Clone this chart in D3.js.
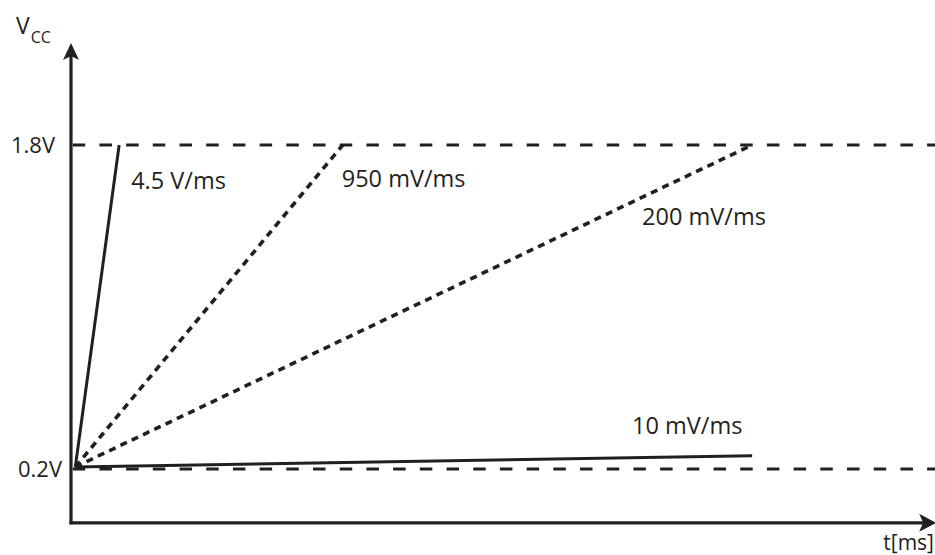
<!DOCTYPE html>
<html>
<head>
<meta charset="utf-8">
<script src="https://cdn.jsdelivr.net/npm/d3@7"></script>
<style>
  html, body { margin: 0; padding: 0; background: #fff; }
  svg { display: block; }
  text { font-family: "Open Sans", "Noto Sans", sans-serif; fill: #231f20; }
</style>
</head>
<body>
<svg id="chart" width="935" height="555"></svg>
<script>
// ---- data (schematic time units, volts) ----
const levelValues = [0.2, 1.8];
const levelLabels = ["0.2V", "1.8V"];
const rampNames   = ["4.5 V/ms", "950 mV/ms", "200 mV/ms", "10 mV/ms"];
const rampStartT  = [0.5, 0.5, 0.5, 0.5];
const rampStartV  = [0.21, 0.21, 0.21, 0.21];
const rampEndT    = [5.6, 31.6, 79.2, 79.2];
const rampEndV    = [1.8, 1.8, 1.8, 0.265];
const rampDotted  = [false, true, true, false];
const axisLabelY  = "V";
const axisLabelYSub = "CC";
const axisLabelX  = "t[ms]";

// ---- layout ----
const svg = d3.select("#chart");
const ink = "#231f20";
const x = d3.scaleLinear().domain([0, 100]).range([71, 931]);
const y = d3.scaleLinear().domain([0.2, 1.8]).range([469, 145]);

const axisV = -0.066;   // where the time axis sits
const axisTopV = 2.304; // arrow tip of the voltage axis
const axisEndT = 100.6; // arrow tip of the time axis

// reference dashed levels
svg.selectAll("line.level").data(levelValues).join("line")
  .attr("class", "level")
  .attr("x1", x(0.2)).attr("x2", 935)
  .attr("y1", d => y(d)).attr("y2", d => y(d))
  .attr("stroke", ink).attr("stroke-width", 3.2)
  .attr("stroke-dasharray", "12.5 14.2");

// level labels
const labelRight = [62, 55];
svg.selectAll("text.level").data(levelLabels).join("text")
  .attr("class", "level")
  .attr("x", (d, i) => labelRight[i])
  .attr("y", (d, i) => y(levelValues[i]))
  .attr("dy", "0.36em")
  .attr("text-anchor", "end")
  .attr("font-size", 22)
  .text(d => d);

// ramps
const ramps = rampNames.map((n, i) => ({
  name: n, t0: rampStartT[i], v0: rampStartV[i], t1: rampEndT[i], v1: rampEndV[i], dotted: rampDotted[i]
}));
svg.selectAll("line.ramp").data(ramps).join("line")
  .attr("class", "ramp")
  .attr("x1", d => x(d.t0)).attr("y1", d => y(d.v0))
  .attr("x2", d => x(d.t1)).attr("y2", d => y(d.v1))
  .attr("stroke", ink)
  .attr("stroke-width", d => d.dotted ? 3.6 : 3)
  .attr("stroke-dasharray", d => d.dotted ? "7 5.5" : null);

// ramp labels (offsets from each ramp's end point)
const labelOffsets = [[12, 44], [-1, 42], [-110, 80], [-120, -22]];
svg.selectAll("text.ramp").data(ramps).join("text")
  .attr("class", "ramp")
  .attr("x", (d, i) => x(d.t1) + labelOffsets[i][0])
  .attr("y", (d, i) => y(d.v1) + labelOffsets[i][1])
  .attr("font-size", 23.5)
  .text(d => d.name);

// axes
const ax0 = x(0), ay0 = y(axisV);
svg.append("line")
  .attr("x1", ax0).attr("y1", ay0 + 1.5)
  .attr("x2", ax0).attr("y2", y(axisTopV) + 12)
  .attr("stroke", ink).attr("stroke-width", 3.2);
svg.append("line")
  .attr("x1", ax0 - 1.5).attr("y1", ay0)
  .attr("x2", x(axisEndT) - 12).attr("y2", ay0)
  .attr("stroke", ink).attr("stroke-width", 3.2);

// arrowheads
const ty = y(axisTopV);
svg.append("path")
  .attr("d", `M${ax0},${ty} L${ax0 + 8},${ty + 17} L${ax0},${ty + 13} L${ax0 - 8},${ty + 17} Z`)
  .attr("fill", ink);
const tx = x(axisEndT);
svg.append("path")
  .attr("d", `M${tx},${ay0} L${tx - 17},${ay0 - 9} L${tx - 13},${ay0} L${tx - 17},${ay0 + 9} Z`)
  .attr("fill", ink);

// axis titles
const vt = svg.append("text").attr("x", 16).attr("y", 34).attr("font-size", 23);
vt.append("tspan").text(axisLabelY);
vt.append("tspan").attr("dy", 9).attr("dx", 1).attr("font-size", 16).text(axisLabelYSub);

svg.append("text")
  .attr("x", 934).attr("y", 550)
  .attr("text-anchor", "end")
  .attr("font-size", 21)
  .text(axisLabelX);
</script>
</body>
</html>
